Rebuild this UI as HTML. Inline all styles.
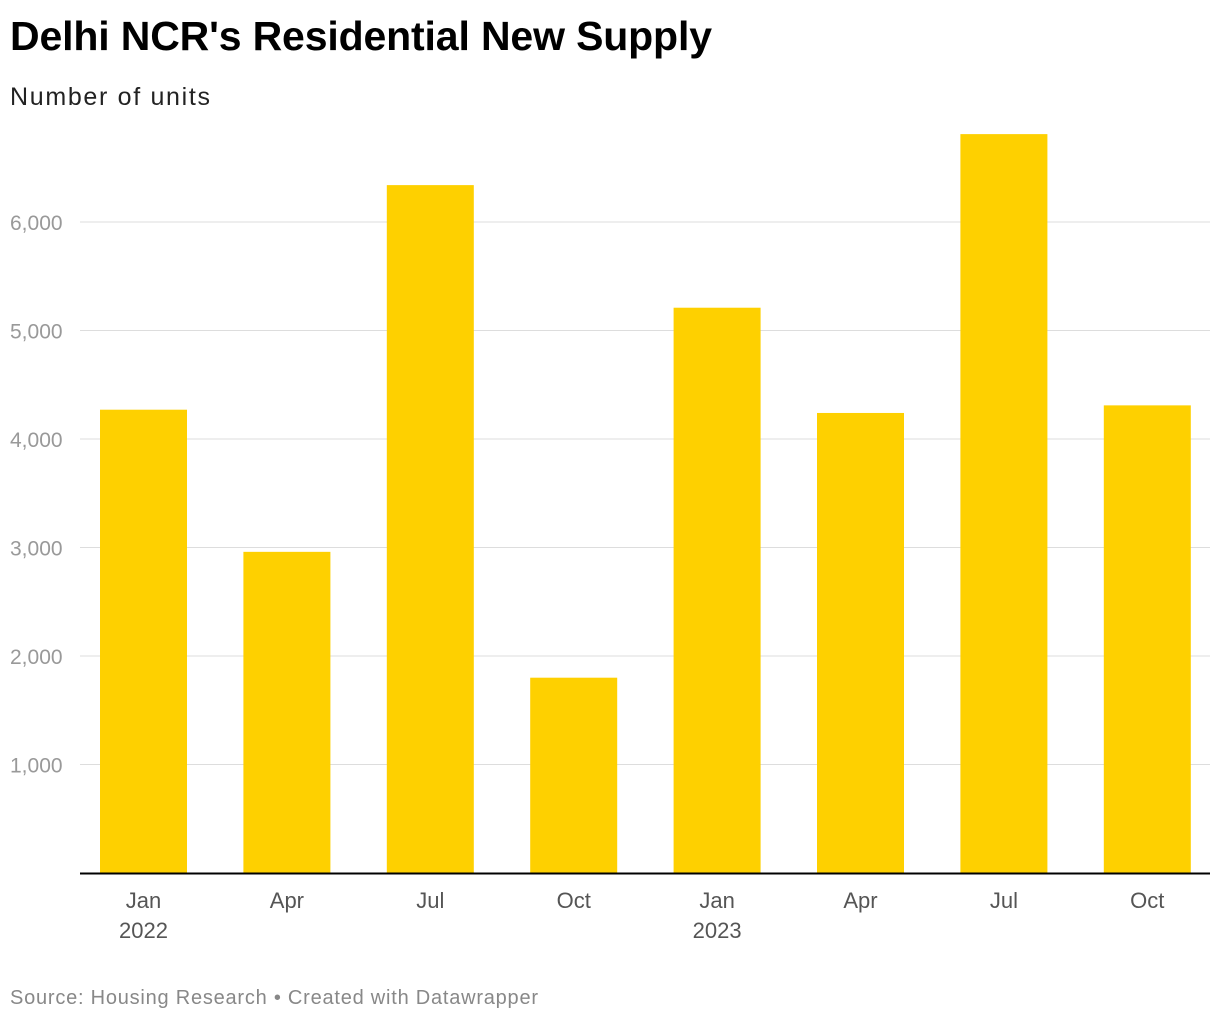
<!DOCTYPE html>
<html><head><meta charset="utf-8"><style>
body{margin:0;background:#fff;font-family:"Liberation Sans",Arial,sans-serif;}
</style></head><body>
<svg width="1220" height="1020" xmlns="http://www.w3.org/2000/svg">
<text x="10" y="50" font-size="41" font-weight="bold" fill="#000" textLength="702">Delhi NCR's Residential New Supply</text>
<text x="10" y="105" font-size="25" fill="#222" textLength="200">Number of units</text>
<g id="grid"></g><g id="bars"></g><g id="xlabels"></g>
<line x1="80" x2="1210" y1="873.5" y2="873.5" stroke="#000" stroke-width="2"/>
<text x="10" y="1004" font-size="20" fill="#888" textLength="528">Source: Housing Research • Created with Datawrapper</text>
</svg>
<script>
const categories=["Jan","Apr","Jul","Oct","Jan","Apr","Jul","Oct"];
const years=["2022","","","","2023","","",""];
const values=[4270,2960,6340,1800,5210,4240,6810,4310];
const ticks=[1000,2000,3000,4000,5000,6000];
const tickLabels=["1,000","2,000","3,000","4,000","5,000","6,000"];
const ns="http://www.w3.org/2000/svg";
const y=v=>873-v*0.1085;
const x=i=>143.5+i*143.4;
function mk(t,a,p){const e=document.createElementNS(ns,t);for(const k in a)e.setAttribute(k,a[k]);p.appendChild(e);return e;}
const g=document.getElementById('grid'),b=document.getElementById('bars'),xl=document.getElementById('xlabels');
ticks.forEach((t,i)=>{
 const l=mk('line',{x1:80,x2:1210,y1:y(t),y2:y(t),stroke:'#ddd','stroke-width':1},g);
 
 
 const tx=mk('text',{x:10,y:y(t)+8,'font-size':21,fill:'#999'},g);tx.textContent=tickLabels[i];
 
 
});
values.forEach((v,i)=>{
 const r=mk('rect',{x:x(i)-43.5,y:y(v),width:87,height:873-y(v),fill:'#fed000'},b);
 
 
 const t=mk('text',{x:x(i),y:908,'font-size':22,fill:'#555','text-anchor':'middle'},xl);t.textContent=categories[i];
 
 
 if(years[i]){const t2=mk('text',{x:x(i),y:938,'font-size':22,fill:'#555','text-anchor':'middle'},xl);t2.textContent=years[i];
 
 }
});
</script>
</body></html>
